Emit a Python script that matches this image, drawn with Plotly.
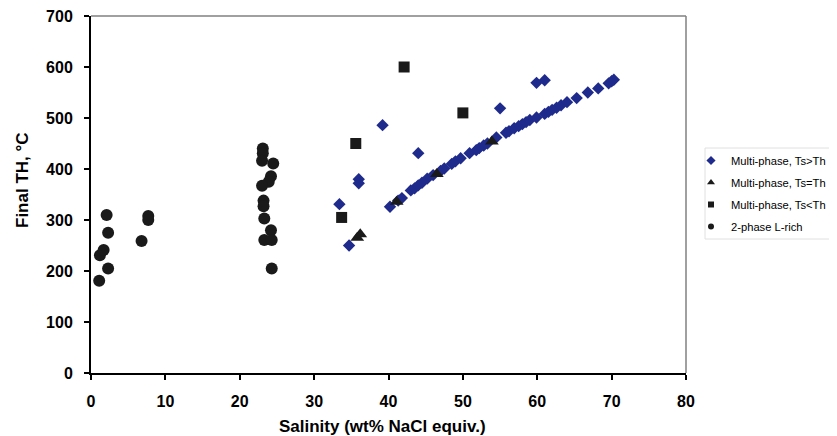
import plotly.graph_objects as go

# ---- data ----
gt_x = [33.4, 34.7, 36.0, 36.0, 39.2, 44.0, 55.0, 59.9, 61.0,
        40.2, 41.3, 41.8, 43.0, 43.5, 44.0, 44.5, 45.2, 46.0, 47.0, 47.5,
        48.5, 49.0, 49.7, 50.9, 51.8, 52.2, 52.8, 53.3, 54.5, 55.8, 56.2,
        56.9, 57.5, 58.0, 58.5, 59.0, 59.9, 61.0, 61.5, 62.0, 62.6, 63.2,
        64.0, 65.3, 66.8, 68.2, 69.6, 70.0, 70.3]
gt_y = [331, 250, 380, 372, 486, 431, 519, 569, 574,
        326, 338, 343, 358, 362, 368, 373, 381, 388, 396, 401,
        410, 415, 421, 431, 437, 441, 446, 450, 462, 471, 474,
        480, 484, 488, 492, 496, 501, 508, 512, 516, 520, 525,
        531, 539, 550, 558, 568, 572, 575]

eq_x = [35.8, 36.2, 41.1, 46.5, 53.9]
eq_y = [265, 272, 336, 390, 454]

lt_x = [33.7, 35.6, 42.1, 50.0]
lt_y = [305, 450, 600, 510]

l2_x = [1.1, 1.2, 1.7, 2.1, 2.3, 2.3, 6.8, 7.7, 7.7,
        23.1, 23.1, 23.0, 24.5, 24.2, 23.9, 23.0, 23.2, 23.2, 23.3,
        24.2, 23.3, 24.3, 24.3]
l2_y = [181, 231, 241, 310, 275, 205, 259, 308, 300,
        440, 431, 416, 411, 386, 375, 367, 338, 327, 303,
        280, 261, 261, 205]

names = ["Multi-phase, Ts>Th", "Multi-phase, Ts=Th", "Multi-phase, Ts<Th", "2-phase L-rich"]

BLUE = "#1f2b8c"
BLACK = "#1a1a1a"
FONT = "Liberation Sans, Arial, sans-serif"

series = [
    (gt_x, gt_y, "diamond", 9.5, BLUE, 7),
    (eq_x, eq_y, "triangle-up", 12, BLACK, 7),
    (lt_x, lt_y, "square", 11, BLACK, 6),
    (l2_x, l2_y, "circle", 12, BLACK, 6),
]

fig = go.Figure()
for (xs, ys, sym, size, col, lsize), nm in zip(series, names):
    fig.add_trace(go.Scatter(x=xs, y=ys, mode="markers", name=nm, showlegend=False,
                             marker=dict(symbol=sym, size=size, color=col)))
# legend entries with the small legend symbols of the reference
for (xs, ys, sym, size, col, lsize), nm in zip(series, names):
    fig.add_trace(go.Scatter(x=[None], y=[None], mode="markers", name=nm, legendgroup=nm,
                             marker=dict(symbol=sym, size=lsize, color=col)))

axis_common = dict(showgrid=False, zeroline=False, showline=True, linecolor="black",
                   linewidth=2, ticks="outside", ticklen=5, tickwidth=2, tickcolor="black",
                   automargin=False, ticklabeloverflow="allow",
                   tickfont=dict(family=FONT, size=16, color="black", weight="bold"))

fig.update_xaxes(range=[0, 80], dtick=10, tick0=0, ticklabelstandoff=8, **axis_common)
fig.update_yaxes(range=[0, 700], dtick=100, tick0=0, ticklabelstandoff=8, **axis_common)

# the page body has an 8px margin: figure pixel = page pixel - 8
OFF = 8
W, H = 837 - OFF, 436 - OFF
L, T = 91 - OFF, 16 - OFF
PW, PH = 595, 357
R, B = W - L - PW, H - T - PH


def px(xp):  # page x -> paper x
    return (xp - OFF - L) / PW


def py(yp):  # page y -> paper y
    return (T + PH - (yp - OFF)) / PH


fig.update_layout(
    width=W, height=H,
    margin=dict(l=L, r=R, t=T, b=B, autoexpand=False),
    paper_bgcolor="white", plot_bgcolor="white",
    font=dict(family=FONT, color="black"),
    legend=dict(x=px(691), y=py(146), xanchor="left", yanchor="top",
                borderwidth=0, bgcolor="rgba(0,0,0,0)",
                font=dict(family=FONT, size=11.2, color="black"),
                tracegroupgap=3, itemwidth=30),
    shapes=[
        dict(type="line", xref="paper", yref="paper", x0=0, x1=1, y0=1, y1=1,
             line=dict(color="#808080", width=1.5)),
        dict(type="line", xref="paper", yref="paper", x0=1, x1=1, y0=0, y1=1,
             line=dict(color="#808080", width=1.5)),
        dict(type="rect", xref="paper", yref="paper", x0=px(705), x1=px(850),
             y0=py(239), y1=py(148), line=dict(color="#e0e0e0", width=1)),
    ],
    annotations=[
        dict(text="<b>Salinity (wt% NaCl equiv.)</b>", xref="paper", yref="paper",
             x=px(382), y=py(427), xanchor="center", yanchor="middle",
             showarrow=False, font=dict(family=FONT, size=17, color="black")),
        dict(text="<b>Final TH, °C</b>", xref="paper", yref="paper",
             x=px(22), y=py(180), xanchor="center", yanchor="middle",
             textangle=-90, showarrow=False, font=dict(family=FONT, size=17, color="black")),
    ],
)

fig.write_html("out.html")
